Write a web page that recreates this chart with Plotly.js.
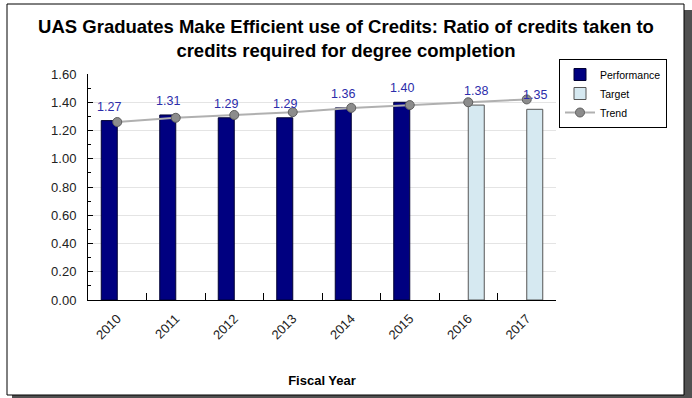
<!DOCTYPE html>
<html>
<head>
<meta charset="utf-8">
<script src="https://cdn.plot.ly/plotly-3.0.1.min.js"></script>
<style>
html,body{margin:0;padding:0;background:#fff;}
#chart{width:692px;height:398px;}
</style>
</head>
<body>
<div id="chart"></div>
<script>
const years = ['2010','2011','2012','2013','2014','2015','2016','2017'];
const performance = [1.27, 1.31, 1.29, 1.29, 1.36, 1.40, null, null];
const target = [null, null, null, null, null, null, 1.38, 1.35];
const trend = [1.26, 1.29, 1.31, 1.33, 1.36, 1.38, 1.40, 1.42];

const L = 88, R = 136, T = 74, B = 98, W = 692, H = 398;
const pw = W - L - R, ph = H - T - B;
const px = v => (v - L) / pw;
const py = v => (H - B - v) / ph;

const FAM = 'Liberation Sans, Arial, sans-serif';
const labelFont = {family: FAM, size: 12.5, color: '#2c2caa'};

const traces = [
  {
    type: 'bar', name: 'Performance', x: years, y: performance,
    marker: {color: '#000080', line: {color: '#000033', width: 1}},
    hoverinfo: 'x+y'
  },
  {
    type: 'bar', name: 'Target', x: years, y: target,
    marker: {color: '#d6e9f1', line: {color: '#555555', width: 1}},
    hoverinfo: 'x+y'
  },
  {
    type: 'scatter', mode: 'lines+markers', name: 'Trend', x: years, y: trend,
    line: {color: '#b0b0b0', width: 2},
    marker: {color: '#8c8c8c', size: 9, line: {color: '#5f5f5f', width: 1}},
    cliponaxis: false
  }
];

// value labels above bars (category index used as x on the category axis)
function valueLabels(values, shift) {
  const out = [];
  values.forEach((v, i) => {
    if (v == null) return;
    out.push({
      x: i, y: v, xref: 'x', yref: 'y', text: v.toFixed(2),
      showarrow: false, xanchor: 'center', yanchor: 'bottom',
      xshift: shift, yshift: 5, font: labelFont
    });
  });
  return out;
}

const layout = {
  width: W, height: H,
  margin: {l: L, r: R, t: T, b: B, pad: 0},
  paper_bgcolor: '#ffffff', plot_bgcolor: 'rgba(0,0,0,0)',
  font: {family: FAM, size: 12, color: '#222'},
  title: {
    text: 'UAS Graduates Make Efficient use of Credits: Ratio of credits taken to<br>credits required for degree completion',
    font: {family: FAM, size: 18.5, weight: 'bold', color: '#000'},
    x: 0.5, xref: 'container', xanchor: 'center',
    y: 0.918, yref: 'container', yanchor: 'top'
  },
  barmode: 'group', bargap: 0.453, bargroupgap: 0,
  showlegend: true,
  legend: {
    x: px(559), y: py(59), xanchor: 'left', yanchor: 'top',
    bgcolor: '#ffffff', bordercolor: '#000', borderwidth: 1,
    font: {family: FAM, size: 10.5, color: '#000'},
    itemwidth: 30, traceorder: 'normal'
  },
  xaxis: {
    type: 'category', range: [-0.5, 7.5], autorange: false,
    tickson: 'boundaries', ticks: 'inside', ticklen: 7,
    tickcolor: '#000', showline: true, linecolor: '#000', linewidth: 1,
    tickangle: -45, tickfont: {size: 13, color: '#222'}, ticklabelstandoff: 5,
    showgrid: false, zeroline: false, fixedrange: true,
    title: {text: 'Fiscal Year', font: {size: 13, weight: 'bold', color: '#000'}, standoff: 34}
  },
  yaxis: {
    range: [0, 1.6], autorange: false, dtick: 0.2, tickformat: '.2f',
    ticks: 'inside', ticklen: 5, tickcolor: '#000',
    showline: true, linecolor: '#000', linewidth: 1,
    gridcolor: '#e4e4e4', gridwidth: 1, zeroline: false,
    tickfont: {size: 13, color: '#222'}, ticklabelstandoff: 8,
    minor: {dtick: 0.1, ticks: 'inside', ticklen: 3, tickcolor: '#000', showgrid: false},
    fixedrange: true
  },
  annotations: valueLabels(performance, -8).concat(valueLabels(target, 8)),
  shapes: [
    {type: 'rect', xref: 'paper', yref: 'paper', layer: 'below',
     x0: px(12), x1: px(692), y0: py(398), y1: py(10),
     fillcolor: '#505050', line: {width: 0}},
    {type: 'rect', xref: 'paper', yref: 'paper', layer: 'below',
     x0: px(7), x1: px(684), y0: py(395), y1: py(4),
     fillcolor: '#ffffff', line: {color: '#000', width: 1}},
    {type: 'rect', xref: 'paper', yref: 'paper', layer: 'below',
     x0: px(561), x1: px(667), y0: py(127.5), y1: py(61),
     fillcolor: '#a0a0a0', line: {width: 0}}
  ]
};

Plotly.newPlot('chart', traces, layout, {displayModeBar: false, staticPlot: true});
</script>
</body>
</html>
